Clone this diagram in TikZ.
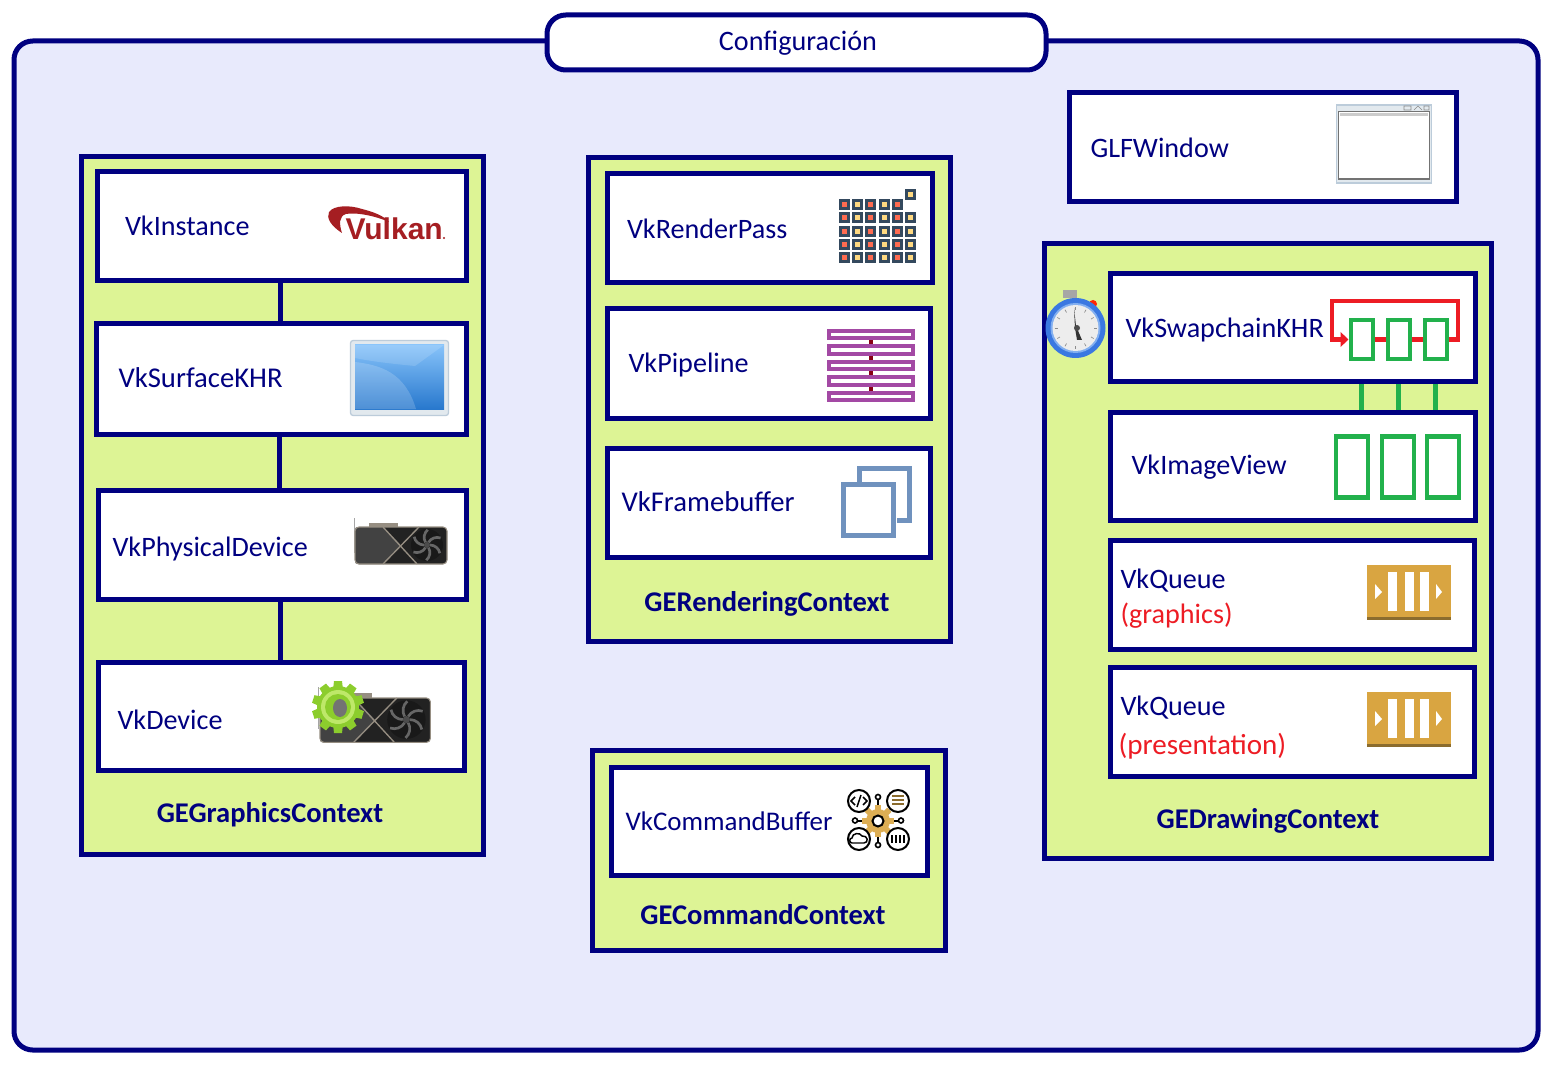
\documentclass[tikz,border=0pt]{standalone}
\usepackage{fontspec}
\setmainfont{Carlito}
\usetikzlibrary{arrows.meta}

\definecolor{navy}{RGB}{0,0,128}
\definecolor{lavender}{RGB}{232,234,252}
\definecolor{lime}{RGB}{221,244,149}
\definecolor{swapgreen}{RGB}{34,177,76}
\definecolor{swapred}{RGB}{237,28,36}
\definecolor{vulkanred}{RGB}{165,30,34}
\definecolor{gold}{RGB}{217,165,65}
\definecolor{golddark}{RGB}{139,108,46}
\definecolor{steel}{RGB}{112,146,190}
\definecolor{violet}{RGB}{163,73,164}
\definecolor{maroon}{RGB}{136,0,21}
\definecolor{slate}{RGB}{52,73,94}
\definecolor{cellred}{RGB}{255,107,80}
\definecolor{cellyellow}{RGB}{255,217,128}
\definecolor{cardbody}{RGB}{34,34,34}
\definecolor{cardside}{RGB}{66,66,66}
\definecolor{cardedge}{RGB}{150,142,130}
\definecolor{gearout}{RGB}{140,205,45}
\definecolor{gearin}{RGB}{190,232,105}
\definecolor{watchblue}{RGB}{58,120,225}
\definecolor{watchsoft}{RGB}{130,175,240}
\definecolor{frameblue}{RGB}{188,204,218}
\definecolor{framefill}{RGB}{226,233,238}
\definecolor{desktop}{RGB}{135,195,250}
\definecolor{deskbottom}{RGB}{40,120,205}

\tikzset{every picture/.style={line width=0.75pt}}
\tikzset{
  sized/.style 2 args={minimum width=(#1+3)*0.75pt,minimum height=(#2+3)*0.75pt},
  frame/.style={draw=navy,line width=3.75pt,rounded corners=14pt,inner sep=0pt},
  ctx/.style={draw=navy,line width=3.75pt,fill=lime,inner sep=0pt},
  vkbox/.style={draw=navy,line width=3.75pt,fill=white,inner sep=0pt},
  link/.style={draw=navy,line width=3.75pt},
  vklabel/.style={anchor=base west,yshift=-7.4pt,inner sep=0pt,text=navy,font=\fontsize{21.1}{24}\selectfont},
  ctxlabel/.style={anchor=base,yshift=-7.4pt,inner sep=0pt,text=navy,font=\fontsize{21.4}{24}\selectfont\bfseries},
  imgslot/.style={draw=swapgreen,line width=3.2pt,inner sep=0pt,fill=white},
  swapslot/.style={draw=swapgreen,line width=3pt,inner sep=0pt,fill=white},
}

% graphics card, corner at body top left
\newcommand{\gpuicon}[3]{%
  \begin{scope}[shift={(#1,#2)},scale=#3]
    \fill[cardedge] (14,-4) rectangle (43,0);
    \draw[gray!70,line width=0.6pt] (-1,-9) -- (-1,26);
    \fill[cardbody,rounded corners=3pt] (0,0) rectangle (92,37);
    \fill[cardside,rounded corners=2pt] (0,0) -- (28,0) -- (46,18) -- (28,37) -- (0,37) -- cycle;
    \draw[cardedge,line width=0.8pt,rounded corners=3pt] (0,0) rectangle (92,37);
    \draw[cardedge,line width=1pt] (28,0) -- (62,37) (64,0) -- (28,37);
    \fill[black!90] (72,18) circle [radius=16];
    \foreach \a in {0,60,...,300}
      \draw[black!60,line width=2pt] (72,18) ++(\a:3) arc[start angle=\a-90,end angle=\a-10,radius=10];
    \fill[black!70] (72,18) circle [radius=3];
  \end{scope}}

% orange queue, top of the plate at #1
\newcommand{\queueicon}[1]{%
  \begin{scope}[shift={(0,#1)}]
    \fill[gold] (1367,0) rectangle (1451,52);
    \fill[golddark] (1367,52) rectangle (1451,55);
    \foreach \x in {1388,1405,1420} \fill[white] (\x,7) rectangle ++(9,39);
    \fill[white] (1375,19) -- (1382,27) -- (1375,34) -- cycle;
    \fill[white] (1436,19) -- (1442,27) -- (1436,34) -- cycle;
  \end{scope}}

\begin{document}
\begin{tikzpicture}[x=0.75pt,y=0.75pt,yscale=-1,xscale=1]
	\useasboundingbox (0,0) rectangle (1550,1066);

	% Outer frame and title
	\node[frame,fill=lavender,sized={1521}{1006}] (config) at (776,545.5) {};
	\node[frame,fill=white,sized={496}{52}] (title) at (796.5,42.5) {};
	\node[vklabel,anchor=base] (titleText) at (798,41) {Configuración};

	% Contexts
	\node[ctx,sized={399}{694}] (graphics) at (282,505.5) {};
	\node[ctx,sized={359}{480}] (rendering) at (769,399.5) {};
	\node[ctx,sized={350}{197}] (command) at (768.5,850) {};
	\node[ctx,sized={444}{611}] (drawing) at (1267.5,551) {};

	% Graphics column
	\node[vkbox,sized={366}{106}] (instance) at (281.5,226.5) {};
	\node[vkbox,sized={367}{107}] (surface) at (281,379) {};
	\node[vkbox,sized={365}{106}] (physical) at (282,544.5) {};
	\node[vkbox,sized={363}{105}] (device) at (281,716) {};
	\draw[link] ([xshift=-1.1pt]instance.south) -- ([xshift=-1.1pt]instance.south |- surface.north);
	\draw[link] ([xshift=-1.5pt]surface.south) -- ([xshift=-1.5pt]surface.south |- physical.north);
	\draw[link] ([xshift=-1.5pt]physical.south) -- ([xshift=-1.5pt]physical.south |- device.north);
	\node[vklabel] (instanceText) at (124.5,226) {VkInstance};
	\node[vklabel,font=\fontsize{21.5}{24}\selectfont] (surfaceText) at (118,378) {VkSurfaceKHR};
	\node[vklabel] (physicalText) at (112,547) {VkPhysicalDevice};
	\node[vklabel] (deviceText) at (117,720) {VkDevice};
	\node[ctxlabel] (graphicsText) at (270,813) {GEGraphicsContext};

	% Rendering column
	\node[vkbox,sized={322}{106}] (renderpass) at (769.5,228.5) {};
	\node[vkbox,sized={320}{106}] (pipeline) at (768.5,363.5) {};
	\node[vkbox,sized={320}{106}] (framebuffer) at (768.5,502.5) {};
	\node[vklabel] (renderpassText) at (626.5,229) {VkRenderPass};
	\node[vklabel] (pipelineText) at (628,363) {VkPipeline};
	\node[vklabel,font=\fontsize{21.5}{24}\selectfont] (framebufferText) at (621,502) {VkFramebuffer};
	\node[ctxlabel] (renderingText) at (767,602) {GERenderingContext};

	% Command column
	\node[vkbox,sized={313}{105}] (cmdbuffer) at (769,821) {};
	\node[vklabel,font=\fontsize{20.2}{24}\selectfont] (cmdbufferText) at (625,821) {VkCommandBuffer};
	\node[ctxlabel] (commandText) at (763,915) {GECommandContext};

	% Window and drawing column
	\node[vkbox,sized={384}{106}] (window) at (1262.5,147.5) {};
	\node[vkbox,sized={362}{105}] (swapchain) at (1292.5,328) {};
	\node[vkbox,sized={362}{105}] (imageview) at (1292.5,466) {};
	\node[vkbox,sized={361}{106}] (queuegfx) at (1292,594.5) {};
	\node[vkbox,sized={361}{106}] (queuepres) at (1292,721.5) {};
	\node[vklabel] (windowText) at (1090,148) {GLFWindow};
	\node[vklabel] (swapchainText) at (1125,328) {VkSwapchainKHR};
	\node[vklabel] (imageviewText) at (1131,465) {VkImageView};
	\node[vklabel] (queuegfxText) at (1120,579) {VkQueue};
	\node[vklabel,text=swapred] (queuegfxKind) at (1120,614) {(graphics)};
	\node[vklabel] (queuepresText) at (1120,706) {VkQueue};
	\node[vklabel,text=swapred,font=\fontsize{21.8}{24}\selectfont] (queuepresKind) at (1118,745) {(presentation)};
	\node[ctxlabel] (drawingText) at (1268,819) {GEDrawingContext};

	% Vulkan logo
	\fill[vulkanred] (342,233) .. controls (331,226) and (326,218) .. (329,212) .. controls (334,205) and (350,205) .. (362,209) .. controls (374,212) and (384,216) .. (389,222) .. controls (376,216) and (356,212) .. (346,214) .. controls (339,216) and (339,224) .. (342,233) -- cycle;
	\node[anchor=base west,inner sep=0pt,text=vulkanred,font=\fontsize{22.5}{24}\fontspec{Liberation Sans}\bfseries] (vulkanText) at (345,240) {Vulkan};
	\fill[vulkanred] (444,238) circle [radius=1.2];

	% Desktop
	\draw[draw=frameblue,fill=framefill,rounded corners=2pt,line width=1pt] (350.5,340.5) rectangle (448.5,415.5);
	\shade[top color=desktop,bottom color=deskbottom] (355,345) rectangle (444,409);
	\fill[white,opacity=0.18] (355,362) .. controls (380,365) and (405,372) .. (416,409) -- (355,409) -- cycle;
	\fill[white,opacity=0.14] (355,345) -- (444,345) -- (415,366) .. controls (395,364) and (375,362) .. (355,358) -- cycle;

	% Cards
	\gpuicon{355}{527}{1}
	\gpuicon{320}{698}{1.2}
	% Gear
	\begin{scope}[shift={(338,707)}]
		\foreach \a in {0,36,...,324}
			\fill[gearout,rotate=\a] (-5,-17) -- (-4,-26) -- (4,-26) -- (5,-17) -- cycle;
		\fill[gearout] (0,0) circle [radius=21];
		\fill[gearin] (0,0) circle [radius=17];
		\fill[gearout] (0,0) circle [radius=13];
		\fill[black!55] (2,1) circle [x radius=7,y radius=9];
	\end{scope}

	% Render pass grid
	\foreach \row/\y in {1/199,2/212,3/226,4/239,5/252}
		\foreach \col/\x in {1/839,2/852,3/865,4/879,5/892,6/905}{
			\ifnum\numexpr\col-\row<5
				\pgfmathparse{int(mod(\col,2))}
				\ifnum\pgfmathresult=1 \def\cellc{cellred}\else \def\cellc{cellyellow}\fi
				\draw[draw=slate,fill=\cellc,line width=2pt] (\x+1.3,\y+1.3) rectangle ++(8.4,8.4);
			\fi
		}
	\draw[draw=slate,fill=cellyellow,line width=2pt] (906.3,190.3) rectangle ++(8.4,8.4);

	% Pipeline bars
	\draw[draw=violet,line width=3pt,fill=white] (829,331) rectangle (913,338);
	\draw[draw=violet,line width=3pt,fill=white] (829,346) rectangle (913,354);
	\draw[draw=violet,line width=3pt,fill=white] (829,362) rectangle (913,369);
	\draw[draw=violet,line width=3pt,fill=white] (829,377) rectangle (913,385);
	\draw[draw=violet,line width=3pt,fill=white] (829,393) rectangle (913,400);
	\foreach \y in {340,356,371,387}
		\fill[maroon] (869,\y) rectangle (873,\y+4);

	% Framebuffer sheets
	\draw[draw=steel,line width=3.75pt] (859.5,482) -- (859.5,468.5) -- (909.5,468.5) -- (909.5,520.5) -- (897,520.5);
	\draw[draw=steel,line width=3.75pt] (843.5,484.5) rectangle (893.5,535.5);

	% Command icon
	\begin{scope}[line width=1.5pt,black]
		\draw (878,797) -- (878,845) (855,820.5) -- (901,820.5);
		\foreach \p in {(878,797),(878,845),(855,820.5),(901,820.5)}
			\draw[fill=white,line width=1.2pt] \p circle [radius=2.5];
		\foreach \a in {0,45,...,315}
			\fill[gold!90!white,rotate around={\a:(878,821)}] (875,805) rectangle (881,811);
		\fill[gold!90!white] (878,821) circle [radius=12];
		\draw[fill=white] (878,821) circle [radius=5.5];
		\draw[fill=white] (859,801) circle [radius=11];
		\draw[fill=white] (898,801) circle [radius=11];
		\draw[fill=white] (859,839) circle [radius=11];
		\draw[fill=white] (898,839) circle [radius=11];
		\draw[line width=1.1pt] (855,797) -- (851,801) -- (855,805) (863,797) -- (867,801) -- (863,805) (861,795) -- (857,807);
		\draw[line width=1.1pt] (852,843) .. controls (849,843) and (849,838) .. (852,838) .. controls (852,833) and (860,832) .. (862,836) .. controls (868,835) and (869,843) .. (864,843) -- cycle;
		\draw[golddark,line width=1.7pt] (892,796) -- (904,796) (892,800) -- (904,800) (892,804) -- (904,804);
		\foreach \x in {892,896,900,904}
			\draw[black,line width=1.6pt] (\x,835) -- (\x,843);
	\end{scope}

	% Window icon
	\draw[draw=frameblue,fill=framefill,line width=1pt] (1336.5,105) rectangle (1431.5,183);
	\draw[draw=black!55,fill=white,line width=0.9pt] (1338.5,111.5) rectangle (1429.5,179);
	\fill[black!20] (1340,113) rectangle (1428,116);
	\draw[draw=black!45,line width=0.5pt] (1404,106) rectangle (1411,110) (1414,110) -- (1418,106) -- (1422,110) (1424,106) rectangle (1429,110);

	% Stopwatch
	\fill[black!35] (1063,290) rectangle (1077,298);
	\fill[red!70!orange] (1093,304) circle [radius=4];
	\fill[watchblue] (1075.5,328) circle [radius=30];
	\fill[watchsoft] (1075.5,328) circle [radius=25];
	\fill[black!7] (1075.5,328) circle [radius=23];
	\foreach \a in {0,30,...,330}
		\draw[black!45,line width=0.5pt] (1075.5,328) ++(\a:21) -- ++(\a:-3);
	\fill[black!80] (1074,308) -- (1076,326) -- (1082,340) -- (1077,340) -- (1075,328) -- cycle;
	\fill[black!70] (1077,328) circle [radius=3];

	% Queues
	\queueicon{565}
	\queueicon{692}

	% Image views
	\node[imgslot,sized={29}{58}] (view1) at (1352,467) {};
	\node[imgslot,sized={29}{58}] (view2) at (1398,467) {};
	\node[imgslot,sized={29}{58}] (view3) at (1443,467) {};

	% Swapchain images
	\node[swapslot,sized={19}{36}] (slot1) at (1361.5,339.5) {};
	\node[swapslot,sized={19}{36}] (slot2) at (1398.5,339.5) {};
	\node[swapslot,sized={19}{36}] (slot3) at (1435.5,339.5) {};
	\draw[draw=swapred,line width=3.5pt] (slot1) -- (slot2);
	\draw[draw=swapred,line width=3.5pt] (slot2) -- (slot3);
	\draw[draw=swapred,line width=3.5pt] (slot3.east) -- (1458,339.5) -- (1458,301) -- (1332,301) -- (1332,339.5) -- (1342,339.5);
	\draw[-{Triangle[length=6pt,width=11pt]},draw=swapred,line width=3.5pt] (1340,339.5) -- (slot1.west);
	\draw[draw=swapgreen,line width=3.5pt] (slot1.south |- swapchain.south) -- (slot1.south |- imageview.north);
	\draw[draw=swapgreen,line width=3.5pt] (slot2.south |- swapchain.south) -- (slot2.south |- imageview.north);
	\draw[draw=swapgreen,line width=3.5pt] (slot3.south |- swapchain.south) -- (slot3.south |- imageview.north);

\end{tikzpicture}
\end{document}
